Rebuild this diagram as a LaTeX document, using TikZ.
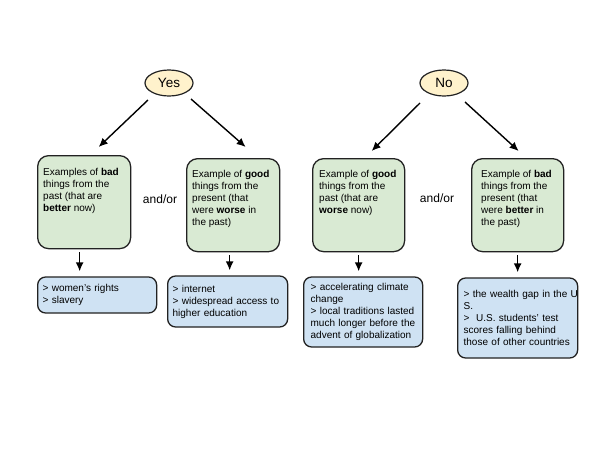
\documentclass[tikz,border=0pt]{standalone}
\usepackage{fontspec}
\setmainfont{Liberation Sans}
\usetikzlibrary{shapes.geometric,arrows.meta}
\definecolor{gfill}{HTML}{D9EAD3}
\definecolor{bfill}{HTML}{CFE2F3}
\definecolor{yfill}{HTML}{FFF2CC}
\definecolor{edge}{HTML}{222222}
\begin{document}
\begin{tikzpicture}[x=1pt,y=-1pt,
  oval/.style={ellipse,draw=edge,fill=yfill,line width=1.2pt,minimum width=48pt,minimum height=26pt,inner sep=0pt,font=\fontsize{13.5}{16}\selectfont},
  gbox/.style={draw=edge,fill=gfill,line width=1.3pt,rounded corners=11pt,anchor=north west,inner sep=0pt},
  bbox/.style={draw=edge,fill=bfill,line width=1.3pt,rounded corners=8pt,anchor=west,inner sep=0pt,align=left,text width=#1,font=\fontsize{10}{12}\selectfont},
  gtext/.style={anchor=north west,inner sep=0pt,align=left,font=\fontsize{10}{12}\selectfont},
  andor/.style={font=\fontsize{12}{14}\selectfont,inner sep=0pt},
  arr/.style={line width=1.4pt,-{Latex[length=9pt,width=8pt]}}]
\useasboundingbox (0,0) rectangle (600,450);
% ovals
\node[oval] (yes) at (169,83) {Yes};
\node[oval] (no) at (444,83) {No};
% green boxes
\node[gbox,minimum width=93pt,minimum height=93pt] (g1) at (37,155) {};
\node[gbox,minimum width=93pt,minimum height=93pt] (g2) at (186,158) {};
\node[gbox,minimum width=92pt,minimum height=93pt] (g3) at (312,158) {};
\node[gbox,minimum width=92pt,minimum height=93pt] (g4) at (471,158) {};
\node[gtext] (t1) at (43,168) {Examples of \textbf{bad}\\things from the\\past (that are\\\textbf{better} now)};
\node[gtext] (t2) at (192,170) {Example of \textbf{good}\\things from the\\present (that\\were \textbf{worse} in\\the past)};
\node[gtext] (t3) at (319,170) {Example of \textbf{good}\\things from the\\past (that are\\\textbf{worse} now)};
\node[gtext] (t4) at (481,170) {Example of \textbf{bad}\\things from the\\present (that\\were \textbf{better} in\\the past)};
\node[andor] (ao1) at (160,199) {and/or};
\node[andor] (ao2) at (437,198) {and/or};
% blue boxes
\node[bbox=119pt,minimum height=36pt] (b1) at (37,295) {\hspace*{5pt}\parbox[c]{110pt}{> women's rights\\> slavery}};
\node[bbox=120pt,minimum height=51pt] (b2) at (167,301.5) {\hspace*{5pt}\parbox[c]{113pt}{> internet\\> widespread access to\\higher education}};
\node[bbox=119pt,minimum height=70pt] (b3) at (303,312) {\hspace*{7pt}\parbox[c]{111pt}{> accelerating climate\\change\\> local traditions lasted\\much longer before the\\advent of globalization}};
\node[bbox=120pt,minimum height=80pt] (b4) at (457,318) {\hspace*{6pt}\parbox[c]{114pt}{\makebox[0pt][l]{> the wealth gap in the U}\\S.\\>~~U.S. students' test\\scores falling behind\\those of other countries}};
% arrows
\draw[arr] ([shift={(-21,17)}]yes.center) -- ([shift={(14.5,-8)}]g1.north);
\draw[arr] ([shift={(22,16)}]yes.center) -- ([shift={(12.5,-11)}]g2.north);
\draw[arr] ([shift={(-24,20)}]no.center) -- ([shift={(13,-7)}]g3.north);
\draw[arr] ([shift={(21,19)}]no.center) -- ([shift={(1,-7)}]g4.north);
\draw[arr] ([shift={(-4.5,3)}]g1.south) -- ([xshift=-17.5pt,yshift=5pt]b1.north);
\draw[arr] ([shift={(-3.5,3)}]g2.south) -- ([xshift=2pt,yshift=5pt]b2.north);
\draw[arr] ([shift={(0,3)}]g3.south) -- ([xshift=-4.5pt,yshift=5pt]b3.north);
\draw[arr] ([shift={(0,3)}]g4.south) -- ([xshift=0pt,yshift=5pt]b4.north);
\end{tikzpicture}
\end{document}
